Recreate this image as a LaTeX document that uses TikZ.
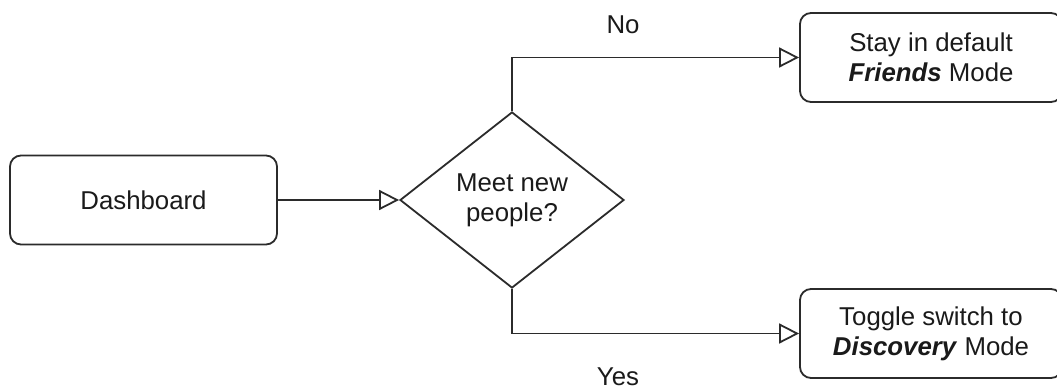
\documentclass[tikz,border=0pt]{standalone}
\usepackage{fontspec}
\setmainfont{Liberation Sans}
\usetikzlibrary{shapes.geometric,arrows.meta}
\definecolor{ln}{HTML}{2B2B2B}
\definecolor{tx}{HTML}{1A1A1A}
\begin{document}
\begin{tikzpicture}[x=1pt,y=1pt,
  every node/.style={text=tx,font=\fontsize{25.8}{30}\selectfont},
  box/.style={draw=ln,line width=1.8pt,rounded corners=11pt,rectangle,inner sep=0pt,align=center},
  decision/.style={draw=ln,line width=1.8pt,diamond,inner sep=0pt,minimum width=224pt,minimum height=176pt,align=center},
  link/.style={draw=ln,line width=1.8pt,-{Triangle[open,length=20pt,width=20pt,line width=1.8pt,fill=white]}},
  lbl/.style={inner sep=0pt,anchor=base}]
\useasboundingbox[fill=white] (0,0) rectangle (1057,-389);
\node[box,minimum width=267pt,minimum height=89pt] (dash) at (143.5,-200) {Dashboard};
\node[decision] (q) at (512,-200) {Meet new\\people?};
\node[box,minimum width=262pt,minimum height=89pt] (stay) at (931,-57.5) {Stay in default\\\textbf{\textit{Friends}} Mode};
\node[box,minimum width=262pt,minimum height=89pt] (tog) at (931,-333.5) {Toggle switch to\\\textbf{\textit{Discovery}} Mode};
\draw[link] (dash.east) -- (q.west);
\draw[link] (q.north) |- (stay.west);
\draw[link] (q.south) |- (tog.west);
\node[lbl] (no) at (623,-33) {No};
\node[lbl] (yes) at (618,-385) {Yes};
\end{tikzpicture}
\end{document}
